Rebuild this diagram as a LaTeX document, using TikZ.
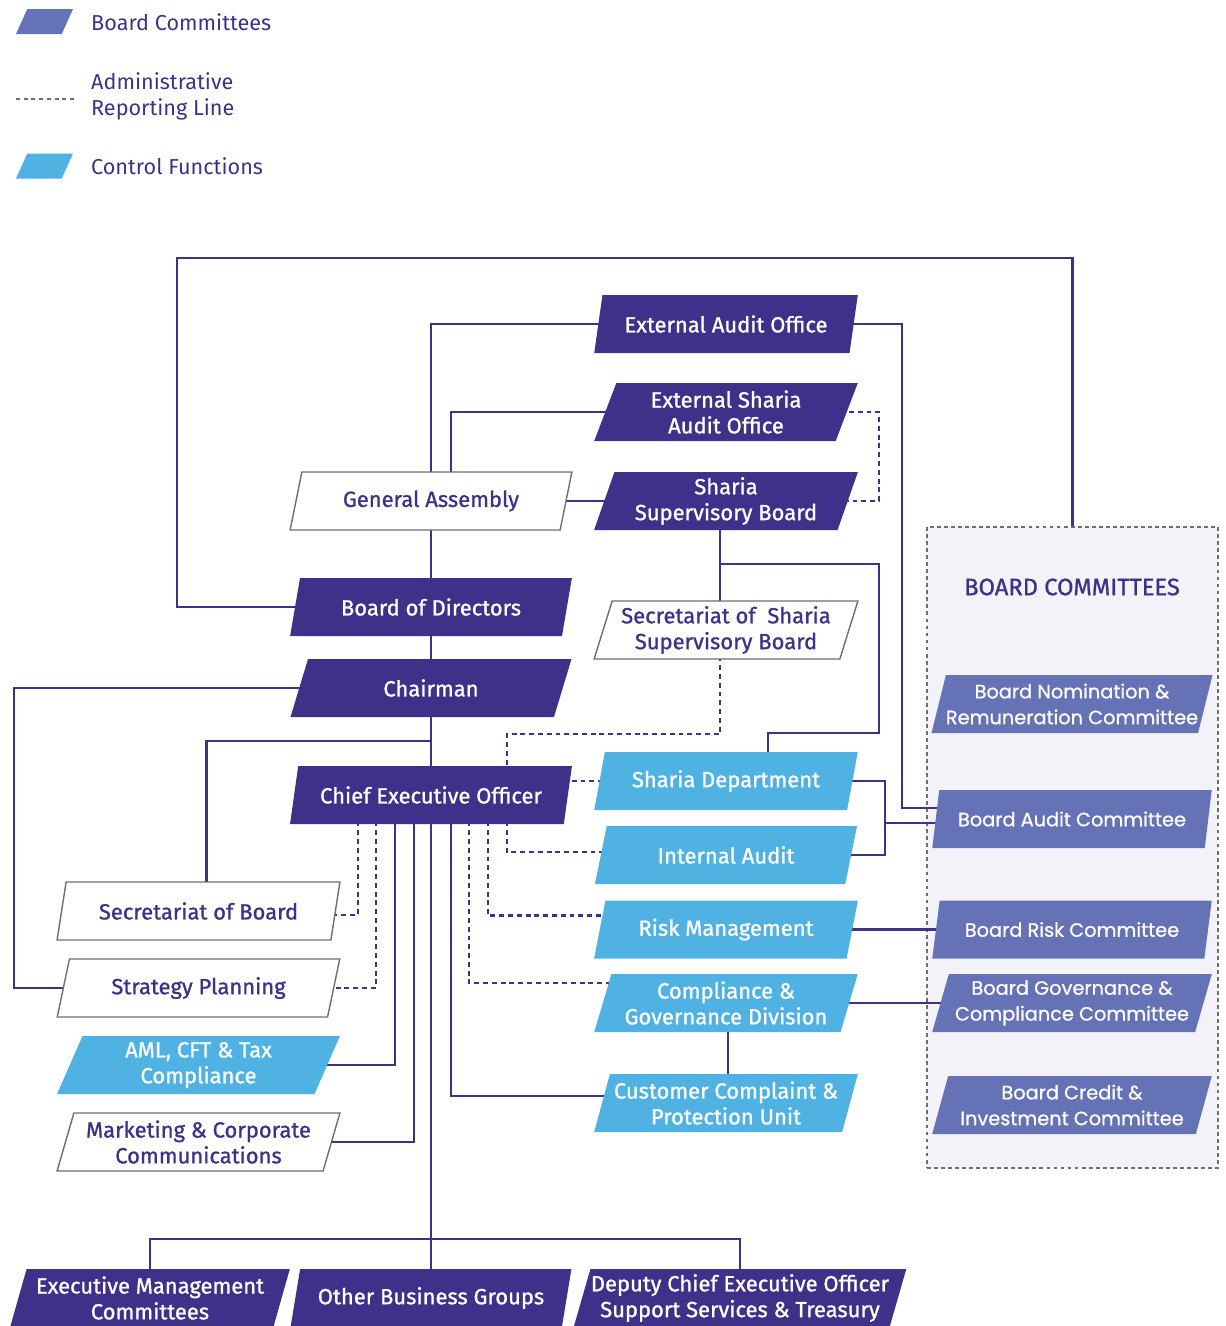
\documentclass[tikz,border=0pt]{standalone}
\usepackage{fontspec}
\IfFontExistsTF{FiraSans-Medium.otf}
  {\setmainfont{FiraSans-Medium.otf}}
  {\setmainfont{Fira Sans}[FakeBold=1]}
\IfFontExistsTF{Poppins-Medium.otf}
  {\newfontfamily\cmtfont{Poppins-Medium.otf}}
  {\newfontfamily\cmtfont{Poppins}[FakeBold=0.8]}
\newfontfamily\legfont{Fira Sans}
\usetikzlibrary{arrows.meta, positioning, shapes.geometric, calc, backgrounds}
\definecolor{bkpurple}{HTML}{3F3189}
\definecolor{bkblue}{HTML}{4FB2E3}
\definecolor{bkcmte}{HTML}{6672B6}
\definecolor{bkgray}{HTML}{6E6E6E}
\definecolor{bkbg}{HTML}{F3F2F9}

\begin{document}
\begin{tikzpicture}[
  x=0.02cm, y=-0.02cm,
  every node/.style={font=\fontsize{12.5}{14.7}\selectfont},
  para/.style={trapezium, trapezium left angle=72, trapezium right angle=108, trapezium stretches=true, minimum width=5.64cm, minimum height=1.16cm, align=center, inner xsep=0pt, inner ysep=1pt},
  legpara/.style={para, minimum width=1.14cm, minimum height=0.5cm, inner sep=1pt},
  mainbox/.style={para, fill=bkpurple, text=white},
  ctrlbox/.style={para, fill=bkblue, text=white, minimum width=5.28cm},
  plainbox/.style={para, fill=white, draw=bkgray, line width=0.8pt, text=bkpurple},
  cmtebox/.style={para, fill=bkcmte, text=white, minimum width=5.6cm, font=\cmtfont\fontsize{11}{14.7}\selectfont},
  legtext/.style={anchor=west, align=left, text=bkpurple, font=\legfont\fontsize{12.3}{14.7}\selectfont},
  conn/.style={draw=bkpurple, line width=1.5pt},
  admin/.style={conn, dash pattern=on 2.8pt off 2.2pt},
]
\useasboundingbox (0,0) rectangle (1226,1326);

% Legend
\node[legpara, fill=bkcmte] (lgcmte) at (44.5,21.5) {};
\node[legtext] (lgcmtetxt) at (85,22) {Board Committees};
\draw[bkgray, line width=0.8pt, dash pattern=on 2.2pt off 2.2pt] (16,99) -- (75,99);
\node[legtext] (lgadmin) at (85,96) {Administrative\\Reporting Line};
\node[legpara, fill=bkblue] (lgctrl) at (44.5,166) {};
\node[legtext] (lgctrltxt) at (85,166) {Control Functions};

% Main column
\node[plainbox] (ga) at (431,501) {General Assembly};
\node[mainbox] (bod) at (431,607) {Board of Directors};
\node[mainbox] (chair) at (431,688) {Chairman};
\node[mainbox] (ceo) at (431,795) {Chief Executive Officer};

% Audit offices and Sharia board
\node[mainbox, minimum width=5.28cm] (eao) at (726,324) {External Audit Office};
\node[mainbox, minimum width=5.28cm] (esao) at (726,412) {External Sharia\\Audit Office};
\node[mainbox, minimum width=5.28cm] (ssb) at (726,501) {Sharia\\Supervisory Board};
\node[plainbox, minimum width=5.28cm] (sssb) at (726,630) {Secretariat of\ \ Sharia\\Supervisory Board};

% Control functions
\node[ctrlbox] (shd) at (726,781) {Sharia Department};
\node[ctrlbox] (ia) at (726,855) {Internal Audit};
\node[ctrlbox] (rm) at (726,929.5) {Risk Management};
\node[ctrlbox] (cgd) at (726,1003) {Compliance \&\\Governance Division};
\node[ctrlbox] (ccu) at (726,1103) {Customer Complaint \&\\Protection Unit};

% Left column
\node[plainbox, minimum width=5.66cm] (secb) at (198.5,911) {Secretariat of Board};
\node[plainbox, minimum width=5.66cm] (strat) at (198.5,988) {Strategy Planning};
\node[ctrlbox, minimum width=5.66cm] (aml) at (198.5,1065) {AML, CFT \& Tax\\Compliance};
\node[plainbox, minimum width=5.66cm] (mkt) at (198.5,1142) {Marketing \& Corporate\\Communications};

% Bottom row
\node[mainbox, minimum width=5.6cm] (emc) at (150,1298) {Executive Management\\Committees};
\node[mainbox, minimum width=5.62cm] (obg) at (431,1298) {Other Business Groups};
\node[mainbox, minimum width=6.66cm] (dceo) at (740,1298) {Deputy Chief Executive Officer\\Support Services \& Treasury};

% Board committees
\node[text=bkpurple, font=\fontsize{13.5}{15}\selectfont] (bctitle) at (1072,587) {BOARD COMMITTEES};
\node[cmtebox] (bnrc) at (1072,704) {Board Nomination \&\\Remuneration Committee};
\node[cmtebox] (bac) at (1072,819) {Board Audit Committee};
\node[cmtebox] (brc) at (1072,929.5) {Board Risk Committee};
\node[cmtebox] (bgcc) at (1072,1003) {Board Governance \&\\Compliance Committee};
\node[cmtebox] (bcic) at (1072,1105) {Board Credit \&\\Investment Committee};

\begin{pgfonlayer}{background}
\node[draw=bkgray, line width=0.9pt, dash pattern=on 2.2pt off 1.8pt, fill=bkbg, minimum width=5.82cm, minimum height=12.82cm, inner sep=0pt] (bcbox) at (1072.5,847.5) {};

% Spine and bottom bus
\draw[conn] (ga.center) -- (obg.center);
\draw[conn] (emc.center) -- ++(0,-59) -| (dceo.center);

% Board loop to committees
\draw[conn] (bod.center) -| (177,258) -| (bcbox.north);

% General Assembly links
\draw[conn] (eao.center) -| (ga.center);
\draw[conn] (esao.center) -| ($(ga.center)+(20,0)$);
\draw[conn] (ga.center) -- (ssb.center);
\draw[admin] (esao.center) -| (879,501) -- (ssb.center);

% Sharia board links
\draw[conn] ($(ssb.center)+(-6,0)$) -- ($(sssb.center)+(-6,0)$);
\draw[conn] ($(ssb.center)+(-6,0)$) |- (879,564) |- (768,733) -- ($(shd.center)+(42,0)$);
\draw[admin] ($(sssb.center)+(-6,0)$) |- (507,734) -- ($(ceo.center)+(76,0)$);

% Chairman branches
\draw[conn] (chair.center) -| (14,988) -- (strat.center);
\draw[conn] ($(chair.center)+(0,53)$) -| ($(secb.center)+(8,0)$);

% CEO branches
\draw[admin] ($(ceo.center)+(-73,0)$) |- ($(secb.center)+(0,4)$);
\draw[admin] ($(ceo.center)+(-55,0)$) |- (strat.center);
\draw[conn] ($(ceo.center)+(-36,0)$) |- (aml.center);
\draw[conn] ($(ceo.center)+(-17,0)$) |- (mkt.center);
\draw[conn] ($(ceo.center)+(20,0)$) |- ($(ccu.center)+(0,-7)$);
\draw[admin] ($(ceo.center)+(38,0)$) |- ($(cgd.center)+(0,-20)$);
\draw[admin] ($(ceo.center)+(57,0)$) |- ($(rm.center)+(0,-14)$);
\draw[admin] ($(ceo.center)+(76,0)$) |- ($(ia.center)+(0,-3)$);
\draw[admin] (shd.center) -- (shd.center -| ceo.center);

% Control functions to committees
\draw[conn] (shd.center) -| (885,855) -- (ia.center);
\coordinate (iabrk) at (885,823);
\draw[conn] (iabrk) -- (iabrk -| bac.center);
\draw[conn] (eao.center) -| ($(bac.center)+(-170,-11)$) -- ($(bac.center)+(0,-11)$);
\draw[conn] (rm.center) -- (brc.center);
\draw[conn] (cgd.center) -- (bgcc.center);
\draw[conn] ($(cgd.center)+(2,0)$) -- ($(ccu.center)+(2,0)$);
\end{pgfonlayer}

\end{tikzpicture}
\end{document}
